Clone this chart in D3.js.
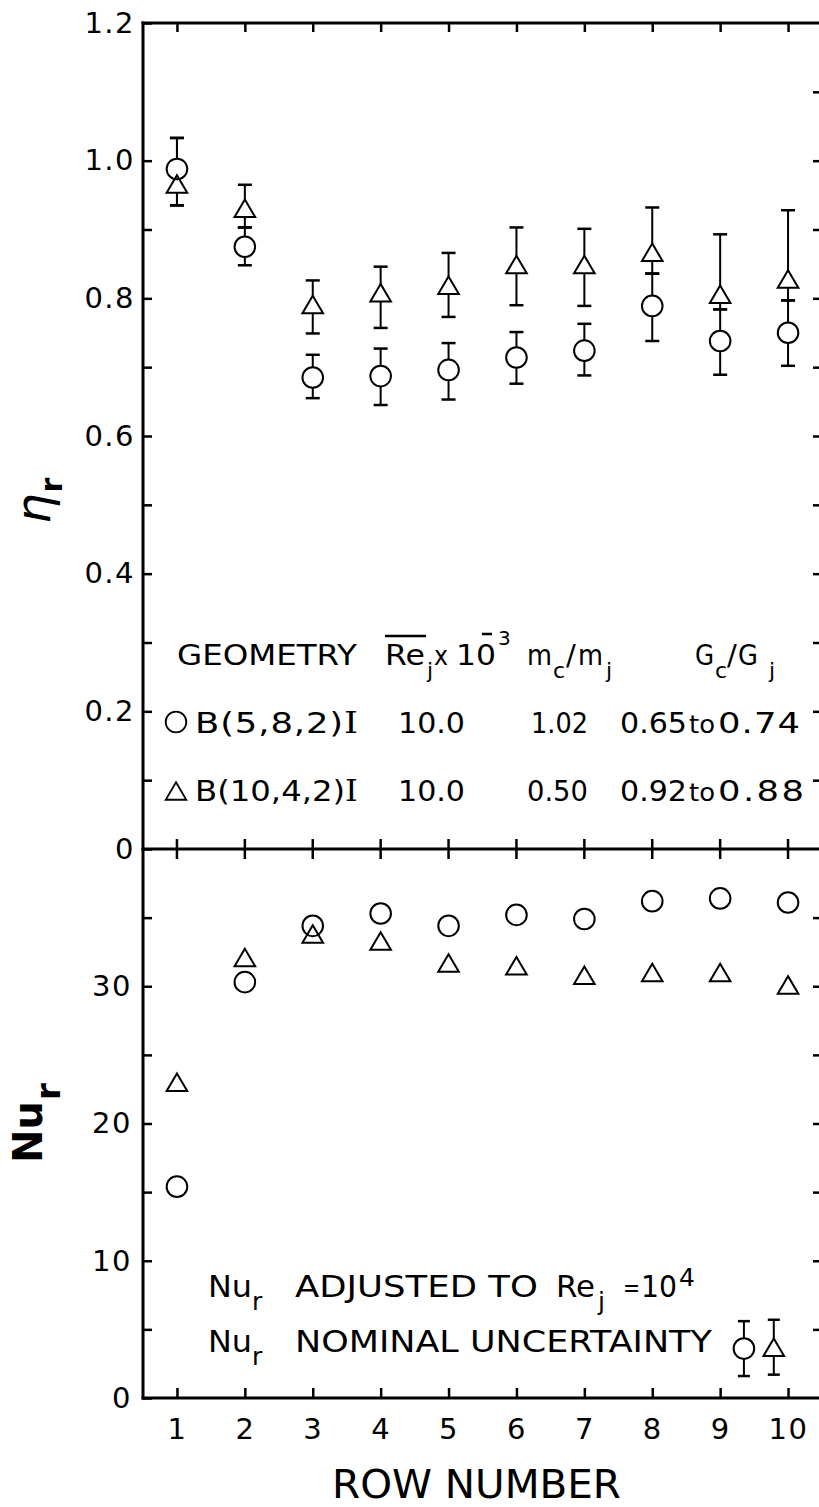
<!DOCTYPE html>
<html>
<head>
<meta charset="utf-8">
<script src="https://cdnjs.cloudflare.com/ajax/libs/d3/7.8.5/d3.min.js"></script>
<style>
  html, body { margin: 0; padding: 0; background: #fff; }
  svg { display: block; }
  text { font-family: "DejaVu Sans", sans-serif; fill: #000; }
</style>
</head>
<body>
<script>
// ---- data -------------------------------------------------------------
const rows = [1, 2, 3, 4, 5, 6, 7, 8, 9, 10];

// row thermal effectiveness, geometry B(5,8,2)I (circles)
const etaCircle   = [0.988, 0.875, 0.685, 0.687, 0.696, 0.714, 0.724, 0.789, 0.738, 0.750];
const etaCircleLo = [0.935, 0.848, 0.655, 0.645, 0.653, 0.676, 0.688, 0.738, 0.689, 0.702];
const etaCircleHi = [1.033, 0.903, 0.718, 0.727, 0.735, 0.751, 0.763, 0.836, 0.784, 0.797];

// row thermal effectiveness, geometry B(10,4,2)I (triangles)
const etaTri   = [0.966, 0.931, 0.791, 0.808, 0.819, 0.849, 0.849, 0.867, 0.806, 0.828];
const etaTriLo = [0.935, 0.903, 0.749, 0.757, 0.773, 0.790, 0.789, 0.836, 0.784, 0.797];
const etaTriHi = [1.033, 0.965, 0.826, 0.846, 0.866, 0.903, 0.901, 0.932, 0.893, 0.928];

// row Nusselt number adjusted to Re_j = 10^4
const nuCircle = [15.4, 30.3, 34.4, 35.3, 34.4, 35.2, 34.9, 36.2, 36.4, 36.1];
const nuTri    = [23.0, 32.1, 33.8, 33.3, 31.7, 31.5, 30.8, 31.0, 31.0, 30.1];

// nominal uncertainty key (placed near rows 9-10)
const uncRows = [9.35, 9.79];
const uncNu = [3.6, 3.7];
const uncHalf = 2.0;

// axis ticks
const etaTickLabels = [0, 0.2, 0.4, 0.6, 0.8, 1.0, 1.2];
const etaMinorLeft  = [0.1, 0.3, 0.5, 0.7, 0.9];
const etaTicksRight = [0.1, 0.2, 0.3, 0.4, 0.5, 0.6, 0.7, 0.8, 0.9, 1.0, 1.1];
const nuTickLabels  = [0, 10, 20, 30];
const nuMinorLeft   = [5, 15, 25, 35];
const nuTicksRight  = [5, 10, 15, 20, 25, 30, 35];

// legend table
const legendGeometry  = ["B(5,8,2)", "B(10,4,2)"];
const legendRe        = ["10.0", "10.0"];
const legendMassRatio = ["1.02", "0.50"];
const legendGFrom     = ["0.65", "0.92"];
const legendGTo       = ["0.74", "0.88"];

// ---- layout ------------------------------------------------------------
const W = 819, H = 1507;
const svg = d3.select("body").append("svg").attr("width", W).attr("height", H);
svg.append("rect").attr("width", W).attr("height", H).attr("fill", "#fff");

const x = d3.scaleLinear().domain([0.5, 10.5]).range([143, 822]);
const yEta = d3.scaleLinear().domain([0, 1.2]).range([849, 23]);
const yNu = d3.scaleLinear().domain([0, 40]).range([1398, 849]);

const TICK = 2.5, FRAME = 3, MARK = 2;
const R = 10.3, TW = 20.6, TH = 17.5, CAP = 7;

function styleAxis(g) {
  g.attr("font-family", null).attr("font-size", null);
  g.select(".domain").remove();
  g.selectAll(".tick line").attr("stroke", "#000").attr("stroke-width", TICK);
  g.selectAll(".tick text").attr("font-size", 29).attr("letter-spacing", 1.5).attr("fill", "#000");
}
const fmtEta = d => d === 0 ? "0" : d3.format(".1f")(d);

// ---- axes --------------------------------------------------------------
svg.append("g").attr("transform", `translate(${x(0.5)},0)`)
  .call(d3.axisLeft(yEta).tickValues(etaTickLabels).tickSizeInner(-9).tickSizeOuter(0)
        .tickPadding(8).tickFormat(fmtEta))
  .call(styleAxis);
svg.append("g").attr("transform", `translate(${x(0.5)},0)`)
  .call(d3.axisLeft(yEta).tickValues(etaMinorLeft).tickSizeInner(-9).tickSizeOuter(0).tickFormat(""))
  .call(styleAxis);
svg.append("g").attr("transform", `translate(${x(10.5)},0)`)
  .call(d3.axisRight(yEta).tickValues(etaTicksRight).tickSizeInner(-9).tickSizeOuter(0).tickFormat(""))
  .call(styleAxis);
svg.append("g").attr("transform", `translate(${x(0.5)},0)`)
  .call(d3.axisLeft(yNu).tickValues(nuTickLabels).tickSizeInner(-9).tickSizeOuter(0).tickPadding(11))
  .call(styleAxis);
svg.append("g").attr("transform", `translate(${x(0.5)},0)`)
  .call(d3.axisLeft(yNu).tickValues(nuMinorLeft).tickSizeInner(-9).tickSizeOuter(0).tickFormat(""))
  .call(styleAxis);
svg.append("g").attr("transform", `translate(${x(10.5)},0)`)
  .call(d3.axisRight(yNu).tickValues(nuTicksRight).tickSizeInner(-9).tickSizeOuter(0).tickFormat(""))
  .call(styleAxis);
svg.append("g").attr("transform", `translate(0,${yEta(1.2)})`)
  .call(d3.axisTop(x).tickValues(rows).tickSizeInner(-9).tickSizeOuter(0).tickFormat(""))
  .call(styleAxis);
// shared middle axis: ticks cross the line
svg.append("g").selectAll("line").data(rows).join("line")
  .attr("x1", d => x(d)).attr("x2", d => x(d))
  .attr("y1", yEta(0) - 10).attr("y2", yEta(0) + 10)
  .attr("stroke", "#000").attr("stroke-width", TICK);
svg.append("g").attr("transform", `translate(0,${yNu(0)})`)
  .call(d3.axisBottom(x).tickValues(rows).tickSizeInner(-10).tickSizeOuter(0).tickPadding(20)
        .tickFormat(d3.format("d")))
  .call(styleAxis);

// frame lines
const frame = svg.append("g").attr("stroke", "#000").attr("stroke-width", FRAME).attr("stroke-linecap", "square");
frame.append("line").attr("x1", x(0.5)).attr("x2", x(0.5)).attr("y1", yEta(1.2)).attr("y2", yNu(0));
frame.append("line").attr("x1", x(10.5)).attr("x2", x(10.5)).attr("y1", yEta(1.2)).attr("y2", yNu(0));
frame.append("line").attr("x1", x(0.5)).attr("x2", x(10.5)).attr("y1", yEta(1.2)).attr("y2", yEta(1.2));
frame.append("line").attr("x1", x(0.5)).attr("x2", x(10.5)).attr("y1", yEta(0)).attr("y2", yEta(0));
frame.append("line").attr("x1", x(0.5)).attr("x2", x(10.5)).attr("y1", yNu(0)).attr("y2", yNu(0));

// ---- marks -------------------------------------------------------------
const triPath = (cx, cy) =>
  `M${cx},${cy - TH / 2}L${cx + TW / 2},${cy + TH / 2}L${cx - TW / 2},${cy + TH / 2}Z`;

function errorBars(g, xs, lo, hi, y, cap) {
  const d = xs.map((r, i) => ({ x: x(r), lo: y(lo[i]), hi: y(hi[i]) }));
  g.selectAll(null).data(d).join("line")
    .attr("x1", p => p.x).attr("x2", p => p.x).attr("y1", p => p.lo).attr("y2", p => p.hi)
    .attr("stroke", "#000").attr("stroke-width", 2);
  ["lo", "hi"].forEach(k => {
    g.selectAll(null).data(d).join("line")
      .attr("x1", p => p.x - cap).attr("x2", p => p.x + cap)
      .attr("y1", p => p[k]).attr("y2", p => p[k])
      .attr("stroke", "#000").attr("stroke-width", TICK);
  });
}

function markers(g, circles, tris) {
  // white fills first so whiskers stay hidden behind the symbols
  g.selectAll(null).data(circles).join("circle")
    .attr("cx", p => p.x).attr("cy", p => p.y).attr("r", R).attr("fill", "#fff");
  g.selectAll(null).data(tris).join("path")
    .attr("d", p => triPath(p.x, p.y)).attr("fill", "#fff");
  g.selectAll(null).data(circles).join("circle")
    .attr("cx", p => p.x).attr("cy", p => p.y).attr("r", R)
    .attr("fill", "none").attr("stroke", "#000").attr("stroke-width", MARK);
  g.selectAll(null).data(tris).join("path")
    .attr("d", p => triPath(p.x, p.y))
    .attr("fill", "none").attr("stroke", "#000").attr("stroke-width", MARK);
}

const gEta = svg.append("g");
errorBars(gEta, rows, etaCircleLo, etaCircleHi, yEta, CAP);
errorBars(gEta, rows, etaTriLo, etaTriHi, yEta, CAP);
markers(gEta,
  rows.map((r, i) => ({ x: x(r), y: yEta(etaCircle[i]) })),
  rows.map((r, i) => ({ x: x(r), y: yEta(etaTri[i]) })));

const gNu = svg.append("g");
markers(gNu,
  rows.map((r, i) => ({ x: x(r), y: yNu(nuCircle[i]) })),
  rows.map((r, i) => ({ x: x(r), y: yNu(nuTri[i]) })));

const gUnc = svg.append("g");
errorBars(gUnc, uncRows, uncNu.map(v => v - uncHalf), uncNu.map(v => v + uncHalf), yNu, 6);
markers(gUnc,
  [{ x: x(uncRows[0]), y: yNu(uncNu[0]) }],
  [{ x: x(uncRows[1]), y: yNu(uncNu[1]) }]);

// ---- text --------------------------------------------------------------
// Text run placed at (px, py); when a width is given the run is widened
// (mostly by stretching the glyphs, the rest by spacing) to span it.
function txt(px, py, s, size, len, opts = {}) {
  const g = svg.append("g").attr("transform", `translate(${px},${py})`);
  const t = g.append("text").attr("font-size", size);
  if (opts.anchor) t.attr("text-anchor", opts.anchor);
  if (opts.weight) t.attr("font-weight", opts.weight);
  t.text(s);
  if (opts.serifTail) t.append("tspan").attr("font-family", "DejaVu Serif").text(opts.serifTail);
  if (len) {
    const w0 = t.node().getComputedTextLength();
    const want = len / w0;
    const sx = Math.max(0.85, Math.min(want, 1.22));
    g.attr("transform", `translate(${px},${py}) scale(${sx},1)`);
    if (Math.abs(want - sx) > 0.01) t.attr("textLength", len / sx).attr("lengthAdjust", "spacing");
  }
  return t;
}

// legend header
const L0 = 665;
txt(177, L0, "GEOMETRY", 29, 180);
txt(385, L0, "Re", 29, 40);
svg.append("line").attr("x1", 385).attr("x2", 426).attr("y1", 636).attr("y2", 636)
  .attr("stroke", "#000").attr("stroke-width", 2.5);
txt(427, L0 + 13, "j", 22);
txt(434, L0, "x", 26, 14);
txt(456, L0, "10", 29, 40);
svg.append("line").attr("x1", 482).attr("x2", 492).attr("y1", 634).attr("y2", 634)
  .attr("stroke", "#000").attr("stroke-width", 2.5);
txt(498, 645, "3", 20);
txt(527, L0, "m", 29, 25);
txt(553, L0 + 13, "c", 22);
txt(566, L0, "/", 29);
txt(578, L0, "m", 29, 25);
txt(606, L0 + 13, "j", 22);
txt(695, L0, "G", 29, 19);
txt(715, L0 + 13, "c", 22);
txt(727, L0, "/", 29);
txt(738, L0, "G", 29, 20);
txt(769, L0 + 13, "j", 22);

// legend rows
const legendBase = [733, 801];
legendGeometry.forEach((g, i) => {
  const b = legendBase[i];
  if (i === 0) {
    svg.append("circle").attr("cx", 176).attr("cy", b - 11).attr("r", R)
      .attr("fill", "none").attr("stroke", "#000").attr("stroke-width", 1.8);
  } else {
    svg.append("path").attr("d", triPath(176, b - 10))
      .attr("fill", "none").attr("stroke", "#000").attr("stroke-width", 1.8);
  }
  txt(195, b, g, 29, 163, { serifTail: "I" });
  txt(398, b, legendRe[i], 29, 67);
  txt(i === 0 ? 531 : 527, b, legendMassRatio[i], 29, i === 0 ? 57 : 61);
  txt(620, b, legendGFrom[i], 29, 67);
  txt(689, b, "to", 24, 26);
  txt(718, b, legendGTo[i], 29, i === 0 ? 82 : 86);
});

// lower panel notes
const N1 = 1297, N2 = 1352;
txt(208, N1, "Nu", 31, 44);
txt(252, N1 + 13, "r", 25);
txt(295, N1, "ADJUSTED TO", 31, 243);
txt(556, N1, "Re", 31, 39);
txt(598, N1 + 13, "j", 25);
txt(623, N1 - 1, "=", 24, 12);
txt(641, N1, "10", 31, 36);
txt(679, N1 - 11, "4", 25);

txt(208, N2, "Nu", 31, 44);
txt(252, N2 + 13, "r", 25);
txt(295, N2, "NOMINAL UNCERTAINTY", 31, 417);

// axis titles
const etaTitle = svg.append("text").attr("transform", "translate(50,524) rotate(-90)")
  .attr("font-size", 48).attr("font-family", "DejaVu Serif").attr("font-style", "italic");
etaTitle.append("tspan").text("\u03b7");
etaTitle.append("tspan").attr("dy", 12).attr("dx", 1).attr("font-size", 30)
  .attr("font-family", "DejaVu Sans").attr("font-style", "normal").attr("font-weight", "bold").text("r");

const nuTitle = svg.append("text").attr("transform", "translate(42,1163) rotate(-90)")
  .attr("font-size", 40).attr("font-weight", "bold");
nuTitle.append("tspan").text("Nu");
nuTitle.append("tspan").attr("dy", 18).attr("dx", 1).attr("font-size", 34).text("r");

txt((x(0.5) + x(10.5)) / 2 - 6, 1498, "ROW NUMBER", 39, 289, { anchor: "middle" });
</script>
</body>
</html>
